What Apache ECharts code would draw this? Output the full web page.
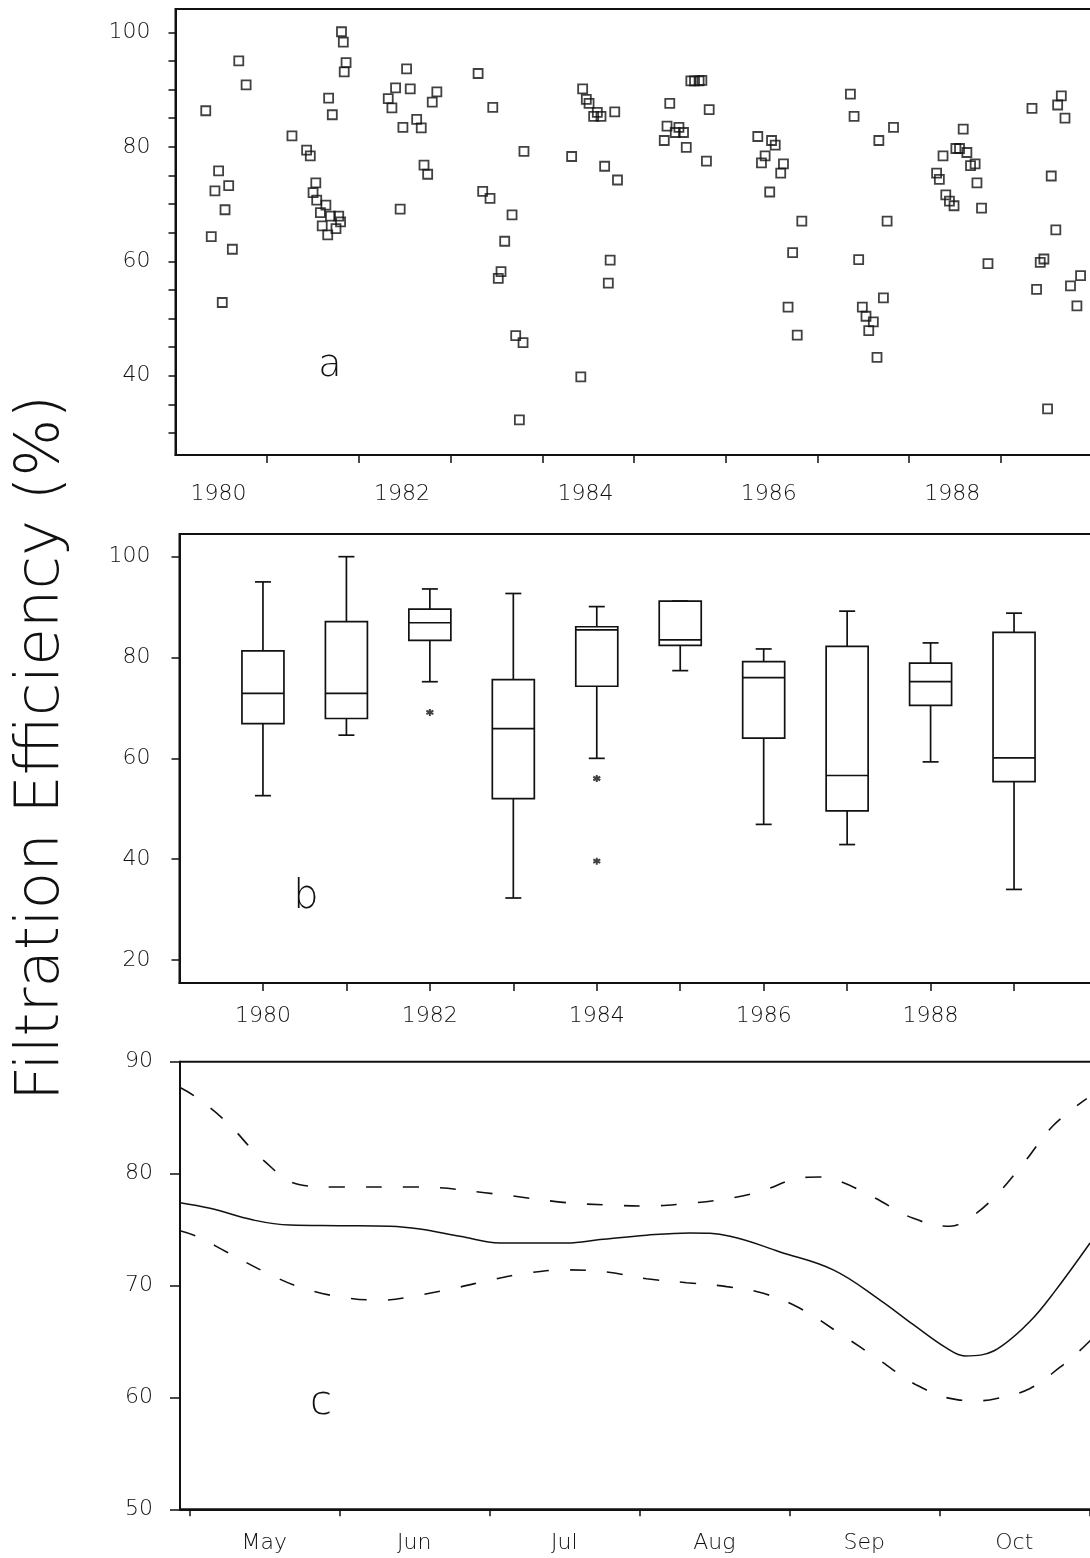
<!DOCTYPE html>
<html><head><meta charset="utf-8">
<script src="https://cdn.jsdelivr.net/npm/echarts@6/dist/echarts.min.js"></script>
<style>html,body{margin:0;padding:0;background:#fff;overflow:hidden;width:1090px;height:1558px}#c{width:1110px;height:1558px}</style>
</head><body><div id="c"></div><script>
// ---- Panel a: individual measurements [decimal year, efficiency %] ----
const obs1980 = [[1980.33,86.3],[1980.47,75.8],[1980.43,72.3],[1980.58,73.2],[1980.54,69.0],[1980.39,64.3],[1980.62,62.1],[1980.51,52.8],[1980.69,95.0],[1980.77,90.8]];
const obs1981 = [[1981.27,81.9],[1981.43,79.4],[1981.47,78.4],[1981.53,73.7],[1981.50,72.0],[1981.54,70.7],[1981.64,69.8],[1981.58,68.5],[1981.69,67.9],[1981.78,67.9],[1981.80,66.9],[1981.60,66.2],[1981.75,65.7],[1981.66,64.6],[1981.67,88.5],[1981.71,85.6],[1981.81,100.1],[1981.83,98.3],[1981.86,94.7],[1981.84,93.1]];
const obs1982 = [[1982.52,93.6],[1982.40,90.3],[1982.56,90.1],[1982.32,88.4],[1982.36,86.8],[1982.48,83.4],[1982.45,69.1],[1982.85,89.6],[1982.80,87.8],[1982.63,84.8],[1982.68,83.3],[1982.71,76.8],[1982.75,75.2]];
const obs1983 = [[1983.30,92.8],[1983.46,86.9],[1983.80,79.2],[1983.35,72.2],[1983.43,71.0],[1983.67,68.1],[1983.59,63.5],[1983.55,58.2],[1983.52,57.0],[1983.71,47.0],[1983.79,45.8],[1983.75,32.3]];
const obs1984 = [[1984.44,90.1],[1984.48,88.3],[1984.51,87.6],[1984.60,86.0],[1984.56,85.3],[1984.64,85.3],[1984.79,86.1],[1984.32,78.3],[1984.68,76.6],[1984.82,74.2],[1984.74,60.2],[1984.72,56.2],[1984.42,39.8]];
const obs1985 = [[1985.62,91.5],[1985.66,91.5],[1985.71,91.5],[1985.74,91.6],[1985.39,87.6],[1985.82,86.5],[1985.36,83.6],[1985.49,83.4],[1985.45,82.5],[1985.54,82.5],[1985.33,81.1],[1985.57,79.9],[1985.79,77.5]];
const obs1986 = [[1986.35,81.8],[1986.50,81.1],[1986.54,80.3],[1986.43,78.4],[1986.39,77.2],[1986.63,77.0],[1986.60,75.4],[1986.48,72.1],[1986.83,67.0],[1986.73,61.5],[1986.68,52.0],[1986.78,47.1]];
const obs1987 = [[1987.36,89.2],[1987.40,85.3],[1987.45,60.3],[1987.49,52.0],[1987.53,50.4],[1987.61,49.4],[1987.56,47.9],[1987.65,43.2],[1987.72,53.6],[1987.76,67.0],[1987.67,81.1],[1987.83,83.4]];
const obs1988 = [[1988.59,83.1],[1988.37,78.4],[1988.51,79.7],[1988.55,79.7],[1988.63,79.0],[1988.72,77.0],[1988.67,76.7],[1988.30,75.4],[1988.33,74.3],[1988.74,73.7],[1988.40,71.6],[1988.44,70.5],[1988.49,69.7],[1988.79,69.3],[1988.86,59.6]];
const obs1989 = [[1989.34,86.7],[1989.66,88.9],[1989.62,87.3],[1989.70,85.0],[1989.55,74.9],[1989.60,65.5],[1989.43,59.8],[1989.47,60.4],[1989.39,55.1],[1989.87,57.5],[1989.76,55.7],[1989.83,52.2],[1989.51,34.2]];

// ---- Panel b: box plot statistics per year ----
const boxYears  = [1980, 1981, 1982, 1983, 1984, 1985, 1986, 1987, 1988, 1989];
const boxLow    = [52.6, 64.6, 75.2, 32.3, 60.0, 77.4, 46.9, 42.9, 59.3, 34.0];
const boxQ1     = [66.9, 67.9, 83.4, 52.0, 74.3, 82.4, 64.0, 49.6, 70.5, 55.4];
const boxMedian = [72.9, 72.9, 86.9, 65.9, 85.5, 83.5, 76.0, 56.6, 75.2, 60.1];
const boxQ3     = [81.3, 87.1, 89.6, 75.6, 86.1, 91.2, 79.2, 82.2, 78.9, 85.0];
const boxHigh   = [95.0, 100.0, 93.6, 92.7, 90.1, 91.2, 81.7, 89.2, 82.9, 88.8];
const outlierYears  = [1982, 1984, 1984];
const outlierValues = [69.1, 56.0, 39.6];

// ---- Panel c: seasonal fit (x = months since 1 May) ----
const monthNames = ['May', 'Jun', 'Jul', 'Aug', 'Sep', 'Oct'];
const fitMonth = [-0.062, 0.138, 0.427, 0.671, 1.0, 1.338, 1.538, 1.805, 2.071, 2.516, 2.738, 3.049, 3.338, 3.605, 3.938, 4.293, 4.605, 4.827, 5.049, 5.171, 5.283, 5.427, 5.605, 5.760, 6.005];
const fitEff   = [77.4, 76.9, 75.85, 75.4, 75.35, 75.3, 75.05, 74.4, 73.8, 73.8, 74.1, 74.5, 74.7, 74.4, 73.0, 71.4, 68.7, 66.5, 64.4, 63.7, 63.8, 64.7, 66.8, 69.3, 73.8];
const upperMonth = [-0.062, 0.038, 0.249, 0.493, 0.738, 0.96, 1.516, 2.027, 2.516, 2.783, 3.049, 3.293, 3.56, 3.805, 4.071, 4.205, 4.338, 4.56, 4.827, 5.071, 5.149, 5.338, 5.56, 5.76, 5.983];
const upperEff   = [87.7, 86.9, 84.6, 81.2, 79.0, 78.8, 78.8, 78.2, 77.4, 77.2, 77.1, 77.3, 77.7, 78.4, 79.6, 79.7, 79.3, 77.9, 76.0, 75.3, 75.6, 77.5, 80.9, 84.3, 86.7];
const lowerMonth = [-0.062, 0.049, 0.249, 0.505, 0.76, 1.049, 1.293, 1.516, 1.783, 2.027, 2.249, 2.516, 2.783, 3.049, 3.316, 3.583, 3.827, 4.071, 4.338, 4.605, 4.849, 5.116, 5.249, 5.383, 5.605, 5.805, 5.938, 6.03];
const lowerEff   = [74.9, 74.4, 73.0, 71.2, 69.75, 68.9, 68.7, 69.1, 69.8, 70.55, 71.1, 71.4, 71.2, 70.6, 70.25, 69.9, 69.3, 67.96, 65.7, 63.3, 61.1, 59.8, 59.7, 59.9, 60.8, 62.7, 64.2, 65.4];

// ---- tick / label values ----
const yearTicksA  = [1981, 1982, 1983, 1984, 1985, 1986, 1987, 1988, 1989];
const yearLabelsA = [1980, 1982, 1984, 1986, 1988];
const effTicksA   = [30, 35, 40, 45, 50, 55, 60, 65, 70, 75, 80, 85, 90, 95, 100];
const effLabelsA  = [40, 60, 80, 100];
const yearTicksB  = [1980, 1981, 1982, 1983, 1984, 1985, 1986, 1987, 1988, 1989];
const yearLabelsB = [1980, 1982, 1984, 1986, 1988];
const effTicksB   = [20, 40, 60, 80, 100];
const monthTicks  = [0, 1, 2, 3, 4, 5, 6];

// ---------------------------------------------------------------
const FONT = 'DejaVu Sans';
const INK = '#111';
const scatterData = [].concat(obs1980, obs1981, obs1982, obs1983, obs1984, obs1985, obs1986, obs1987, obs1988, obs1989);
const boxData = boxYears.map((y, i) => [y, boxLow[i], boxQ1[i], boxMedian[i], boxQ3[i], boxHigh[i]]);
const outlierData = outlierYears.map((y, i) => [y, outlierValues[i]]);
const zip = (a, b) => a.map((v, i) => [v, b[i]]);

function axisCommon(extra) {
  return Object.assign({
    type: 'value',
    splitLine: { show: false },
    axisLine: { show: true, onZero: false, lineStyle: { color: INK, width: 2 } },
  }, extra);
}
const labelStyle = { color: '#111', fontFamily: FONT, fontSize: 22, fontWeight: 200 };

const option = {
  animation: false,
  backgroundColor: '#fff',
  textStyle: { fontFamily: FONT },
  grid: [
    { left: 175.5, top: 9, width: 917, height: 446, show: true, borderColor: INK, borderWidth: 2 },
    { left: 179.5, top: 534, width: 918, height: 449, show: true, borderColor: INK, borderWidth: 2 },
    { left: 180, top: 1061.7, width: 924.3, height: 447.6, show: true, borderColor: INK, borderWidth: 2 }
  ],
  xAxis: [
    axisCommon({ gridIndex: 0, min: 1980, max: 1990,
      axisTick: { show: true, length: 8, lineStyle: { color: INK, width: 1.5 }, customValues: yearTicksA },
      axisLabel: Object.assign({ margin: 28, customValues: yearLabelsA.map(v => v + 0.47), formatter: v => String(Math.floor(v)) }, labelStyle) }),
    axisCommon({ gridIndex: 1, min: 1979, max: 1990,
      axisTick: { show: true, length: 8, lineStyle: { color: INK, width: 1.5 }, customValues: yearTicksB },
      axisLabel: Object.assign({ margin: 22, customValues: yearLabelsB, formatter: v => String(Math.round(v)) }, labelStyle) }),
    axisCommon({ gridIndex: 2, min: -0.062, max: 6.1,
      axisTick: { show: true, length: 7, lineStyle: { color: INK, width: 1.5 }, customValues: monthTicks },
      axisLabel: Object.assign({ margin: 23, customValues: monthNames.map((m, i) => i + 0.5), formatter: v => monthNames[Math.floor(v)] || '' }, labelStyle) })
  ],
  yAxis: [
    axisCommon({ gridIndex: 0, min: 26.16, max: 104.07,
      axisTick: { show: true, length: 7, lineStyle: { color: INK, width: 1.5 }, customValues: effTicksA },
      axisLabel: Object.assign({ margin: 25, customValues: effLabelsA }, labelStyle) }),
    axisCommon({ gridIndex: 1, min: 15.44, max: 104.5,
      axisTick: { show: true, length: 8, lineStyle: { color: INK, width: 1.5 }, customValues: effTicksB },
      axisLabel: Object.assign({ margin: 29, customValues: effTicksB }, labelStyle) }),
    axisCommon({ gridIndex: 2, min: 50, max: 90, interval: 10,
      axisTick: { show: true, length: 10, lineStyle: { color: INK, width: 1.5 } },
      axisLabel: Object.assign({ margin: 27 }, labelStyle) })
  ],
  series: [
    { type: 'scatter', xAxisIndex: 0, yAxisIndex: 0, data: scatterData,
      symbol: 'rect', symbolSize: 9,
      itemStyle: { color: 'rgba(0,0,0,0)', borderColor: INK, borderWidth: 1.8 } },
    { type: 'custom', xAxisIndex: 1, yAxisIndex: 1, data: boxData,
      renderItem: function (params, api) {
        const x = api.value(0);
        const pLow = api.coord([x, api.value(1)]);
        const pQ1 = api.coord([x, api.value(2)]);
        const pMed = api.coord([x, api.value(3)]);
        const pQ3 = api.coord([x, api.value(4)]);
        const pHigh = api.coord([x, api.value(5)]);
        const bw = 42, cw = 16, cx = pQ1[0];
        const st = { stroke: INK, lineWidth: 1.7, fill: null };
        return { type: 'group', children: [
          { type: 'line', shape: { x1: cx, y1: pLow[1], x2: cx, y2: pQ1[1] }, style: st },
          { type: 'line', shape: { x1: cx, y1: pQ3[1], x2: cx, y2: pHigh[1] }, style: st },
          { type: 'line', shape: { x1: cx - cw / 2, y1: pLow[1], x2: cx + cw / 2, y2: pLow[1] }, style: st },
          { type: 'line', shape: { x1: cx - cw / 2, y1: pHigh[1], x2: cx + cw / 2, y2: pHigh[1] }, style: st },
          { type: 'rect', shape: { x: cx - bw / 2, y: pQ3[1], width: bw, height: pQ1[1] - pQ3[1] }, style: { stroke: INK, lineWidth: 1.7, fill: '#fff' } },
          { type: 'line', shape: { x1: cx - bw / 2, y1: pMed[1], x2: cx + bw / 2, y2: pMed[1] }, style: st }
        ] };
      } },
    { type: 'scatter', xAxisIndex: 1, yAxisIndex: 1, data: outlierData,
      symbol: 'path://M0,-5 L0,5 M-4.33,-2.5 L4.33,2.5 M-4.33,2.5 L4.33,-2.5', symbolSize: 7,
      itemStyle: { color: 'rgba(0,0,0,0)', borderColor: INK, borderWidth: 2 } },
    { type: 'line', xAxisIndex: 2, yAxisIndex: 2, data: zip(fitMonth, fitEff), smooth: 0.4, symbol: 'none',
      lineStyle: { color: INK, width: 1.5 } },
    { type: 'line', xAxisIndex: 2, yAxisIndex: 2, data: zip(upperMonth, upperEff), smooth: 0.4, symbol: 'none',
      lineStyle: { color: INK, width: 1.6, type: [16, 21] } },
    { type: 'line', xAxisIndex: 2, yAxisIndex: 2, data: zip(lowerMonth, lowerEff), smooth: 0.4, symbol: 'none',
      lineStyle: { color: INK, width: 1.6, type: [16, 21] } }
  ],
  graphic: [
    { type: 'text', x: 42, y: 748, rotation: Math.PI / 2,
      style: { text: 'Filtration Efficiency (%)', fontFamily: FONT, fontSize: 61, fontWeight: 200, fill: '#111', align: 'center', verticalAlign: 'middle' } },
    { type: 'text', x: 330, y: 366, style: { text: 'a', fontFamily: FONT, fontSize: 38, fontWeight: 200, fill: '#111', align: 'center', verticalAlign: 'middle' } },
    { type: 'text', x: 306, y: 898, style: { text: 'b', fontFamily: FONT, fontSize: 40, fontWeight: 200, fill: '#111', align: 'center', verticalAlign: 'middle' } },
    { type: 'text', x: 321, y: 1404, style: { text: 'c', fontFamily: FONT, fontSize: 40, fontWeight: 200, fill: '#111', align: 'center', verticalAlign: 'middle' } }
  ]
};
const chart = echarts.init(document.getElementById('c'), null, { renderer: 'canvas' });
chart.setOption(option);
</script></body></html>
